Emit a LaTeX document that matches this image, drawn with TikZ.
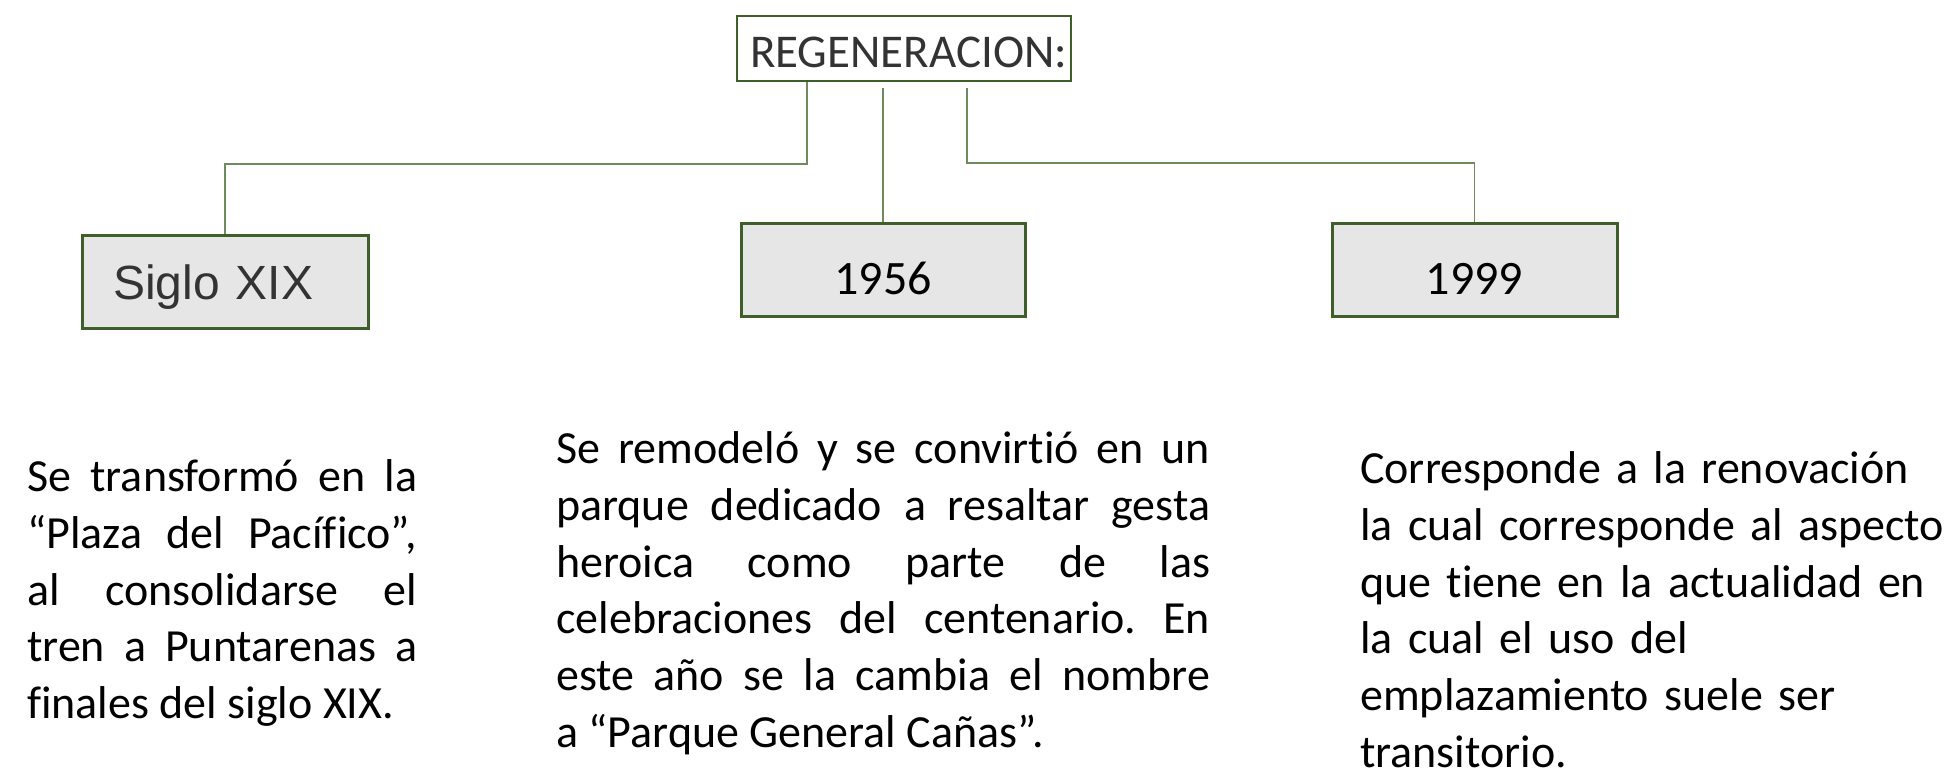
\documentclass[tikz,border=0pt]{standalone}
\usepackage{fontspec}
\setmainfont{Carlito}[Ligatures={TeX,NoCommon}]
\newfontfamily\arialf{Liberation Sans}
\definecolor{linec}{HTML}{6E8B5E}
\definecolor{boxc}{HTML}{3F5F2A}
\definecolor{boxfill}{HTML}{E6E6E6}
\definecolor{darktext}{HTML}{333333}
\newcommand{\firstline}{\rule{0pt}{40pt}}
\frenchspacing
\tikzset{
  conn/.style={draw=linec, line width=1.5pt},
  yearbox/.style={draw=boxc, line width=3pt, fill=boxfill, inner sep=0pt,
    minimum width=284pt, minimum height=93pt, font=\fontsize{48}{56}\selectfont,
    text height=49pt, text depth=0pt},
  para/.style={anchor=north west, inner sep=0pt, font=\fontsize{46}{56.9}\selectfont}
}
\begin{document}
\begin{tikzpicture}[x=1pt,y=-1pt]
\useasboundingbox (0,0) rectangle (1953,768);
% title
\node[draw=boxc, line width=2.5pt, fill=white, minimum width=334pt, minimum height=65pt,
  inner xsep=13pt, inner ysep=0pt, text width=308pt, align=left, text=darktext,
  font=\fontsize{47}{56}\selectfont, text height=37pt, text depth=0pt]
  (title) at (904,48.5) {REGENERACION:};
% year boxes
\node[yearbox, minimum width=286pt, inner xsep=31pt, text width=224pt, align=left,
  text=darktext, font=\arialf\fontsize{48}{56}\selectfont, text height=35pt]
  (siglo) at (225,281.5) {Siglo XIX};
\node[yearbox] (b1956) at (883,269.5) {1956};
\node[yearbox, minimum width=285pt] (b1999) at (1474.5,269.5) {1999};
% connectors
\coordinate (l1) at (807,164);
\coordinate (m0) at (883,88);
\coordinate (r0) at (967,88);
\coordinate (r1) at (967,163);
\draw[conn] (title.south -| l1) -- (l1) -| (siglo.north);
\draw[conn] (m0) -- (b1956.north);
\draw[conn] (r0) -- (r1) -| (b1999.north);
% paragraphs
\node[para, text width=390pt, align=justify] (t1) at (27,451)
  {\firstline Se transformó en la\linebreak “Plaza del Pacífico”,\linebreak al consolidarse el\linebreak tren a Puntarenas a\linebreak finales del siglo XIX.};
\node[para, text width=654pt, align=justify] (t2) at (556,423)
  {\firstline Se remodeló y se convirtió en un\linebreak parque dedicado a resaltar gesta\linebreak heroica como parte de las\linebreak celebraciones del centenario. En\linebreak este año se la cambia el nombre\linebreak a “Parque General Cañas”.};
\node[para, text width=595pt, align=left] (t3) at (1360,443)
  {\firstline Corresponde a la renovación\\ la cual corresponde al aspecto\\ que tiene en la actualidad en\\ la cual el uso del\\ emplazamiento suele ser\\ transitorio.};
\end{tikzpicture}
\end{document}
